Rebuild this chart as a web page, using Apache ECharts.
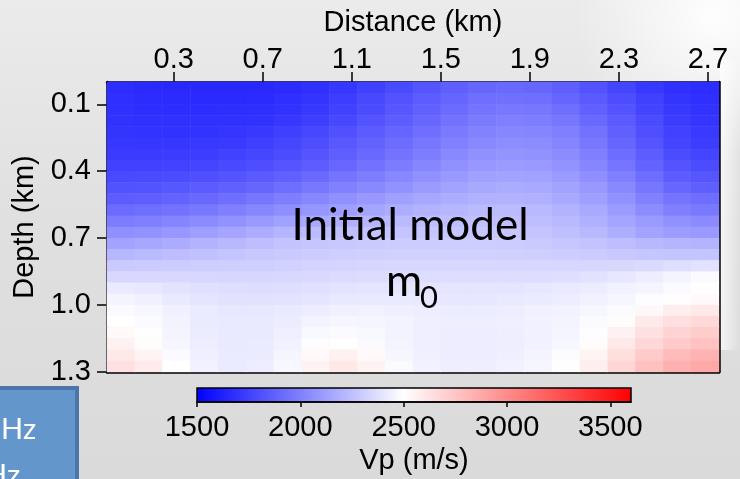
<!DOCTYPE html>
<html>
<head>
<meta charset="utf-8">
<script src="https://cdn.jsdelivr.net/npm/echarts@6/dist/echarts.min.js"></script>
<style>html,body{margin:0;padding:0;}#c{width:740px;height:479px;}</style>
</head>
<body>
<div id="c"></div>
<script>
// ---- data ----
// column centres (km), 0.125 km wide cells
const distanceCells = ['0.0625','0.1875','0.3125','0.4375','0.5625','0.6875','0.8125','0.9375','1.0625','1.1875','1.3125','1.4375','1.5625','1.6875','1.8125','1.9375','2.0625','2.1875','2.3125','2.4375','2.5625','2.6875'];
// row centres (km), 0.05 km tall cells
const depthCells = ['0.025','0.075','0.125','0.175','0.225','0.275','0.325','0.375','0.425','0.475','0.525','0.575','0.625','0.675','0.725','0.775','0.825','0.875','0.925','0.975','1.025','1.075','1.125','1.175','1.225','1.275'];
// Vp (m/s) per depth row
const vp0025 = [1675,1665,1660,1655,1655,1660,1670,1690,1715,1750,1790,1830,1870,1900,1910,1900,1870,1820,1770,1720,1690,1675];
const vp0075 = [1682,1672,1668,1663,1663,1668,1685,1705,1740,1780,1820,1860,1900,1930,1940,1930,1900,1850,1800,1750,1705,1685];
const vp0125 = [1688,1680,1676,1675,1678,1682,1697,1720,1755,1795,1838,1878,1918,1952,1965,1960,1930,1880,1822,1765,1718,1695];
const vp0175 = [1695,1690,1686,1686,1690,1697,1715,1742,1778,1822,1862,1902,1945,1978,1995,1990,1960,1910,1850,1790,1735,1706];
const vp0225 = [1703,1698,1697,1700,1708,1720,1745,1775,1812,1855,1895,1935,1975,2008,2025,2020,1995,1945,1875,1808,1752,1722];
const vp0275 = [1716,1712,1712,1718,1728,1745,1772,1802,1842,1882,1922,1962,2002,2032,2050,2046,2020,1970,1900,1830,1770,1740];
const vp0325 = [1732,1730,1733,1740,1752,1772,1798,1830,1870,1910,1950,1990,2030,2062,2078,2072,2048,1998,1928,1858,1798,1768];
const vp0375 = [1755,1755,1760,1768,1785,1805,1830,1865,1905,1945,1985,2025,2065,2092,2105,2100,2075,2025,1958,1888,1828,1798];
const vp0425 = [1785,1788,1795,1808,1828,1852,1880,1915,1952,1990,2028,2064,2100,2125,2135,2130,2105,2060,1995,1925,1865,1835];
const vp0475 = [1820,1825,1838,1855,1875,1900,1932,1968,2002,2035,2068,2102,2135,2158,2168,2162,2138,2095,2032,1962,1902,1872];
const vp0525 = [1865,1872,1888,1908,1932,1960,1992,2028,2062,2095,2125,2152,2175,2192,2198,2188,2162,2122,2068,2005,1952,1925];
const vp0575 = [1918,1930,1948,1970,1995,2025,2055,2088,2120,2148,2175,2198,2215,2228,2232,2222,2198,2160,2108,2048,1998,1972];
const vp0625 = [1985,1998,2018,2042,2070,2100,2130,2160,2188,2210,2228,2240,2248,2252,2252,2242,2222,2190,2148,2102,2065,2045];
const vp0675 = [2058,2072,2092,2118,2148,2178,2208,2232,2250,2262,2270,2275,2278,2280,2278,2268,2248,2218,2180,2140,2112,2098];
const vp0725 = [2140,2155,2172,2195,2220,2245,2262,2275,2285,2292,2298,2300,2302,2302,2298,2292,2280,2262,2240,2220,2205,2200];
const vp0775 = [2215,2228,2240,2255,2268,2282,2292,2300,2308,2314,2318,2320,2320,2320,2316,2312,2305,2295,2282,2272,2268,2268];
const vp0825 = [2290,2295,2300,2305,2308,2312,2318,2325,2332,2338,2342,2344,2345,2345,2344,2342,2340,2340,2345,2355,2370,2385];
const vp0875 = [2345,2348,2345,2342,2340,2338,2342,2350,2356,2360,2364,2364,2364,2364,2364,2364,2370,2385,2405,2430,2455,2478];
const vp0925 = [2410,2405,2390,2378,2368,2365,2370,2380,2390,2396,2398,2396,2395,2395,2398,2402,2410,2425,2442,2460,2478,2495];
const vp0975 = [2455,2440,2415,2395,2385,2383,2388,2398,2408,2412,2412,2408,2405,2405,2410,2418,2428,2445,2465,2490,2510,2525];
const vp1025 = [2478,2468,2440,2418,2405,2405,2415,2430,2440,2442,2438,2430,2425,2425,2430,2440,2448,2462,2485,2530,2575,2600];
const vp1075 = [2500,2482,2450,2422,2410,2410,2425,2450,2462,2460,2450,2438,2432,2432,2438,2448,2455,2478,2515,2590,2640,2670];
const vp1125 = [2525,2495,2455,2425,2412,2414,2435,2470,2485,2472,2450,2435,2428,2428,2433,2442,2458,2492,2560,2635,2690,2720];
const vp1175 = [2560,2515,2462,2428,2414,2418,2448,2492,2505,2485,2455,2435,2428,2428,2432,2445,2468,2515,2600,2675,2730,2765];
const vp1225 = [2600,2550,2480,2435,2418,2422,2458,2525,2560,2525,2465,2440,2430,2430,2438,2456,2488,2548,2645,2730,2795,2830];
const vp1275 = [2635,2585,2500,2445,2422,2428,2468,2555,2600,2555,2478,2445,2432,2432,2442,2465,2505,2575,2680,2770,2840,2875];
const vpRows = [vp0025,vp0075,vp0125,vp0175,vp0225,vp0275,vp0325,vp0375,vp0425,vp0475,vp0525,vp0575,vp0625,
                vp0675,vp0725,vp0775,vp0825,vp0875,vp0925,vp0975,vp1025,vp1075,vp1125,vp1175,vp1225,vp1275];

const distanceTicks = [0.3,0.7,1.1,1.5,1.9,2.3,2.7];
const depthTicks = [0.1,0.4,0.7,1.0,1.3];
const vpTicks = [1500,2000,2500,3000,3500];
const vpMin = 1500, vpMid = 2500, vpMax = 3600;
const distanceMax = 2.75, depthMax = 1.3;

// ---- build ----
const heatData = [];
vpRows.forEach((row, r) => row.forEach((v, c) => heatData.push([c, r, v])));

function vpColor(v) {
  if (v <= vpMid) {
    const t = Math.round(255 * (v - vpMin) / (vpMid - vpMin));
    return 'rgb(' + t + ',' + t + ',255)';
  }
  const s = Math.round(255 * (1 - (v - vpMid) / (vpMax - vpMid)));
  return 'rgb(255,' + s + ',' + s + ')';
}
const ramp = [];
for (let v = vpMin; v <= vpMax; v += 100) ramp.push(vpColor(v));

const chart = echarts.init(document.getElementById('c'));
const FONT = '"Liberation Sans", Arial, sans-serif';
const TXT = { color: '#000', fontFamily: FONT, fontSize: 29 };
const barGradient = new echarts.graphic.LinearGradient(0, 0, 1, 0, [
  { offset: 0, color: vpColor(vpMin) },
  { offset: (vpMid - vpMin) / (vpMax - vpMin), color: vpColor(vpMid) },
  { offset: 1, color: vpColor(vpMax) }
]);

chart.setOption({
  animation: false,
  graphic: [
    { type: 'rect', z: -100, silent: true, shape: { x: 0, y: 0, width: 740, height: 479 },
      style: { fill: new echarts.graphic.LinearGradient(0, 0, 0, 1, [
        { offset: 0, color: '#ebebeb' }, { offset: 0.45, color: '#e0e0e0' }, { offset: 1, color: '#d9dad9' }]) } },
    { type: 'circle', z: -99, silent: true, shape: { cx: 715, cy: 15, r: 140 },
      style: { fill: new echarts.graphic.RadialGradient(0.5, 0.5, 0.5, [
        { offset: 0, color: 'rgba(255,255,255,0.95)' }, { offset: 1, color: 'rgba(255,255,255,0)' }]) } },
    { type: 'rect', z: -98, silent: true, shape: { x: 720, y: 60, width: 20, height: 290 },
      style: { fill: new echarts.graphic.LinearGradient(0, 0, 1, 0, [
        { offset: 0, color: 'rgba(255,255,255,0.7)' }, { offset: 1, color: 'rgba(255,255,255,0)' }]) } },
    { type: 'rect', z: 50, silent: true, shape: { x: -10, y: 388, width: 87, height: 110 },
      style: { fill: '#6397cb', stroke: '#4a76a8', lineWidth: 4 } },
    { type: 'text', z: 51, silent: true, x: 36, y: 430,
      style: { text: 'Hz', fill: '#fff', font: '29px Lato, sans-serif', align: 'right', verticalAlign: 'middle' } },
    { type: 'text', z: 51, silent: true, x: 20, y: 476,
      style: { text: 'Hz', fill: '#fff', font: '29px Lato, sans-serif', align: 'right', verticalAlign: 'middle' } },
    { type: 'text', z: 60, silent: true, x: 410, y: 226,
      style: { text: 'Initial model', fill: '#000', font: '44px Lato, sans-serif', align: 'center', verticalAlign: 'middle' } },
    { type: 'text', z: 60, silent: true, x: 404, y: 282,
      style: { text: 'm', fill: '#000', font: '44px Lato, sans-serif', align: 'center', verticalAlign: 'middle' } },
    { type: 'text', z: 60, silent: true, x: 429, y: 298,
      style: { text: '0', fill: '#000', font: '31px Lato, sans-serif', align: 'center', verticalAlign: 'middle' } }
  ],
  grid: [
    { left: 107, top: 82, width: 612, height: 290 },
    { left: 197, top: 388, width: 434, height: 14, show: true, backgroundColor: barGradient, borderColor: '#000', borderWidth: 1.5 }
  ],
  visualMap: { show: false, type: 'continuous', min: vpMin, max: vpMax, seriesIndex: 0, inRange: { color: ramp } },
  xAxis: [
    { type: 'category', gridIndex: 0, data: distanceCells, position: 'bottom',
      axisLine: { show: true, onZero: false, lineStyle: { color: '#000', width: 2.5 } },
      axisTick: { show: false }, axisLabel: { show: false }, splitLine: { show: false } },
    { type: 'value', gridIndex: 0, position: 'top', min: 0, max: distanceMax,
      name: 'Distance (km)', nameLocation: 'middle', nameGap: 45, nameTextStyle: TXT,
      axisLine: { show: true, onZero: false, lineStyle: { color: '#000', width: 2.5 } },
      axisTick: { show: true, customValues: distanceTicks, length: 10, lineStyle: { color: '#000', width: 1.5 } },
      axisLabel: { show: true, customValues: distanceTicks, formatter: v => v.toFixed(1), margin: 8, ...TXT },
      splitLine: { show: false } },
    { type: 'value', gridIndex: 1, position: 'bottom', min: vpMin, max: vpMax,
      name: 'Vp (m/s)', nameLocation: 'middle', nameGap: 44, nameTextStyle: TXT,
      axisLine: { show: true, onZero: false, lineStyle: { color: '#000', width: 1.5 } },
      axisTick: { show: true, customValues: vpTicks, length: 5, lineStyle: { color: '#000', width: 1.5 } },
      axisLabel: { show: true, customValues: vpTicks, formatter: v => String(v), margin: 11, ...TXT },
      splitLine: { show: false } },
    { type: 'value', gridIndex: 1, position: 'top', min: vpMin, max: vpMax,
      axisLine: { show: false }, axisTick: { show: true, inside: true, customValues: vpTicks, length: 3, lineStyle: { color: '#000', width: 1.5 } },
      axisLabel: { show: false }, splitLine: { show: false } }
  ],
  yAxis: [
    { type: 'category', gridIndex: 0, data: depthCells, inverse: true, position: 'right',
      axisLine: { show: true, onZero: false, lineStyle: { color: '#000', width: 2.5 } },
      axisTick: { show: false }, axisLabel: { show: false }, splitLine: { show: false } },
    { type: 'value', gridIndex: 0, position: 'left', inverse: true, min: 0, max: depthMax,
      name: 'Depth (km)', nameLocation: 'middle', nameGap: 54, nameTextStyle: TXT,
      axisLine: { show: true, onZero: false, lineStyle: { color: '#000', width: 2.5 } },
      axisTick: { show: true, customValues: depthTicks, length: 10, lineStyle: { color: '#000', width: 1.5 } },
      axisLabel: { show: true, customValues: depthTicks, formatter: v => v.toFixed(1), margin: 16, ...TXT },
      splitLine: { show: false } },
    { type: 'value', gridIndex: 1, show: false, min: 0, max: 1 }
  ],
  series: [
    { type: 'heatmap', xAxisIndex: 0, yAxisIndex: 0, data: heatData, progressive: 0, emphasis: { disabled: true } }
  ]
});
</script>
</body>
</html>
